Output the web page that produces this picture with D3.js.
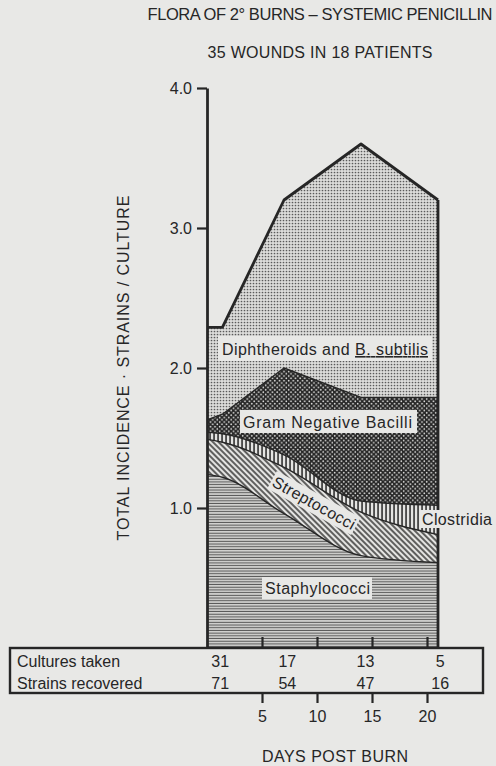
<!DOCTYPE html>
<html>
<head>
<meta charset="utf-8">
<script src="https://cdn.jsdelivr.net/npm/d3@7"></script>
<style>
  body { margin: 0; background: #e8e8e6; }
  svg { display: block; font-family: "Liberation Sans", Arial, sans-serif; }
</style>
</head>
<body>
<div id="chart"></div>
<script>
// days post burn where the curves were read, and what each group adds on top of the one below
const days = [0, 1.4, 7, 14, 21];
const staphylococci = [1.24, 1.22, 0.96, 0.66, 0.61];
const streptococci = [0.25, 0.25, 0.33, 0.31, 0.2];
const clostridia = [0.05, 0.06, 0.09, 0.08, 0.21];
const gramNegative = [0.09, 0.14, 0.62, 0.74, 0.77];
const diphtheroids = [0.66, 0.62, 1.2, 1.81, 1.41];

// table under the chart
const tableDays = [1.2, 7.3, 14.4, 21.2];
const culturesTaken = [31, 17, 13, 5];
const strainsRecovered = [71, 54, 47, 16];

const dayTicks = [5, 10, 15, 20];
const yTicks = [1, 2, 3, 4];

const ink = "#262626";
const paper = "#e8e8e6";

const width = 496,
  height = 766;

const svg = d3
  .select("#chart")
  .append("svg")
  .attr("width", width)
  .attr("height", height);

// scales
const x = d3.scaleLinear().domain([0, 21]).range([207, 438]);
const y = d3.scaleLinear().domain([0, 4]).range([648, 88]);

// patterns ////////////////
const defs = svg.append("defs");

// fine dots - diphtheroids
let p = defs
  .append("pattern")
  .attr("id", "dots")
  .attr("patternUnits", "userSpaceOnUse")
  .attr("width", 3)
  .attr("height", 3);
p.append("rect").attr("width", 3).attr("height", 3).attr("fill", "#dcdcda");
p.append("circle").attr("cx", 1.5).attr("cy", 1.5).attr("r", 0.85).attr("fill", "#5a5a5a");

// dark with light holes - gram negative
p = defs
  .append("pattern")
  .attr("id", "cross")
  .attr("patternUnits", "userSpaceOnUse")
  .attr("width", 4.6)
  .attr("height", 4.6);
p.append("rect").attr("width", 4.6).attr("height", 4.6).attr("fill", "#262626");
p.append("circle").attr("cx", 1.15).attr("cy", 1.15).attr("r", 0.85).attr("fill", "#e4e4e2");
p.append("circle").attr("cx", 3.45).attr("cy", 3.45).attr("r", 0.85).attr("fill", "#e4e4e2");

// vertical stripes - clostridia
p = defs
  .append("pattern")
  .attr("id", "vert")
  .attr("patternUnits", "userSpaceOnUse")
  .attr("width", 4)
  .attr("height", 4);
p.append("rect").attr("width", 4).attr("height", 4).attr("fill", "#e4e4e2");
p.append("rect").attr("x", 1.3).attr("width", 1.5).attr("height", 4).attr("fill", ink);

// diagonal stripes - streptococci
p = defs
  .append("pattern")
  .attr("id", "diag")
  .attr("patternUnits", "userSpaceOnUse")
  .attr("width", 4)
  .attr("height", 4)
  .attr("patternTransform", "rotate(45)");
p.append("rect").attr("width", 4).attr("height", 4).attr("fill", "#e4e4e2");
p.append("rect").attr("y", 1.3).attr("width", 4).attr("height", 1.4).attr("fill", ink);

// horizontal lines - staphylococci
p = defs
  .append("pattern")
  .attr("id", "horiz")
  .attr("patternUnits", "userSpaceOnUse")
  .attr("width", 4)
  .attr("height", 2.7);
p.append("rect").attr("width", 4).attr("height", 2.7).attr("fill", "#d2d2d0");
p.append("rect").attr("y", 0.8).attr("width", 4).attr("height", 1).attr("fill", "#555");

// stack the groups
const keys = ["staph", "strep", "clost", "gram", "diph"];
const rows = days.map((d, i) => ({
  day: d,
  staph: staphylococci[i],
  strep: streptococci[i],
  clost: clostridia[i],
  gram: gramNegative[i],
  diph: diphtheroids[i],
}));
const series = d3.stack().keys(keys)(rows);

const look = {
  staph: { fill: "url(#horiz)", curve: d3.curveMonotoneX },
  strep: { fill: "url(#diag)", curve: d3.curveMonotoneX },
  clost: { fill: "url(#vert)", curve: d3.curveMonotoneX },
  gram: { fill: "url(#cross)", curve: d3.curveLinear },
  diph: { fill: "url(#dots)", curve: d3.curveLinear },
};

// paint top layer first, each one from zero up to its cumulative top
series
  .slice()
  .reverse()
  .forEach((s) => {
    const area = d3
      .area()
      .x((d) => x(d.data.day))
      .y0(y(0))
      .y1((d) => y(d[1]))
      .curve(look[s.key].curve);
    svg.append("path").datum(s).attr("d", area).attr("fill", look[s.key].fill);
  });

// boundary lines
series.forEach((s) => {
  const line = d3
    .line()
    .x((d) => x(d.data.day))
    .y((d) => y(d[1]))
    .curve(look[s.key].curve);
  svg
    .append("path")
    .datum(s)
    .attr("d", line)
    .attr("fill", "none")
    .attr("stroke", ink)
    .attr("stroke-width", s.key === "diph" ? 2.8 : 1.4)
    .attr("stroke-linejoin", "round");
});

// right edge of the area
const last = series[series.length - 1];
svg
  .append("line")
  .attr("x1", x(21))
  .attr("x2", x(21))
  .attr("y1", y(0))
  .attr("y2", y(last[last.length - 1][1]))
  .attr("stroke", ink)
  .attr("stroke-width", 2.8);

// labels inside the areas ////////////////
const boxLabel = (bx, by, bw, bh) => {
  svg
    .append("rect")
    .attr("x", bx)
    .attr("y", by)
    .attr("width", bw)
    .attr("height", bh)
    .attr("fill", paper);
};

boxLabel(218, 336, 214, 25);
const diphText = svg
  .append("text")
  .attr("x", 222)
  .attr("y", 355)
  .attr("font-size", 16)
  .attr("fill", ink)
  .attr("textLength", 206);
diphText.append("tspan").text("Diphtheroids and ");
diphText.append("tspan").style("text-decoration", "underline").text("B. subtilis");

boxLabel(240, 410, 177, 23);
svg
  .append("text")
  .attr("x", 243)
  .attr("y", 428)
  .attr("font-size", 16)
  .attr("fill", ink)
  .attr("textLength", 169)
  .text("Gram Negative Bacilli");

const strepG = svg.append("g").attr("transform", "translate(314,503) rotate(29)");
strepG
  .append("rect")
  .attr("x", -48)
  .attr("y", -10)
  .attr("width", 96)
  .attr("height", 20)
  .attr("fill", paper);
strepG
  .append("text")
  .attr("text-anchor", "middle")
  .attr("dy", "0.35em")
  .attr("font-size", 16)
  .attr("fill", ink)
  .attr("textLength", 92)
  .text("Streptococci");

boxLabel(420, 510, 20, 18);
svg
  .append("text")
  .attr("x", 422)
  .attr("y", 525)
  .attr("font-size", 16)
  .attr("fill", ink)
  .attr("textLength", 70)
  .text("Clostridia");

boxLabel(262, 577, 110, 22);
svg
  .append("text")
  .attr("x", 265)
  .attr("y", 594)
  .attr("font-size", 16)
  .attr("fill", ink)
  .attr("textLength", 105)
  .text("Staphylococci");

// Y axis ////////////////
const yAxis = svg
  .append("g")
  .attr("transform", `translate(${x(0)},0)`)
  .call(
    d3
      .axisLeft(y)
      .tickValues(yTicks)
      .tickFormat(d3.format(".1f"))
      .tickSize(10)
      .tickPadding(5)
      .tickSizeOuter(0)
  );
yAxis.select(".domain").attr("stroke", ink).attr("stroke-width", 2.8);
yAxis.selectAll(".tick line").attr("stroke", ink).attr("stroke-width", 2.2);
yAxis
  .selectAll(".tick text")
  .attr("font-size", 16)
  .attr("font-family", "Liberation Sans, Arial, sans-serif")
  .attr("fill", ink);

svg
  .append("text")
  .attr("transform", "translate(129,368) rotate(-90)")
  .attr("text-anchor", "middle")
  .attr("font-size", 16)
  .attr("fill", ink)
  .attr("textLength", 345)
  .text("TOTAL INCIDENCE · STRAINS / CULTURE");

// small ticks at the chart bottom, pointing up
const innerTicks = svg
  .append("g")
  .attr("transform", `translate(0,${y(0)})`)
  .call(d3.axisBottom(x).tickValues(dayTicks).tickSize(-11).tickFormat(""));
innerTicks.select(".domain").remove();
innerTicks.selectAll(".tick line").attr("stroke", ink).attr("stroke-width", 2.2);

// table ////////////////
svg
  .append("rect")
  .attr("x", 10)
  .attr("y", 648)
  .attr("width", 473)
  .attr("height", 45)
  .attr("fill", "none")
  .attr("stroke", ink)
  .attr("stroke-width", 2.4);

const rowText = (label, values, baseline) => {
  svg
    .append("text")
    .attr("x", 17)
    .attr("y", baseline)
    .attr("font-size", 16)
    .attr("fill", ink)
    .text(label);
  svg
    .selectAll(null)
    .data(values)
    .enter()
    .append("text")
    .attr("x", (d, i) => x(tableDays[i]))
    .attr("y", baseline)
    .attr("text-anchor", "middle")
    .attr("font-size", 16)
    .attr("fill", ink)
    .text((d) => d);
};
rowText("Cultures taken", culturesTaken, 667);
rowText("Strains recovered", strainsRecovered, 689);

// X axis under the table ////////////////
const xAxis = svg
  .append("g")
  .attr("transform", "translate(0,693)")
  .call(d3.axisBottom(x).tickValues(dayTicks).tickSize(10).tickPadding(8));
xAxis.select(".domain").remove();
xAxis.selectAll(".tick line").attr("stroke", ink).attr("stroke-width", 2.2);
xAxis
  .selectAll(".tick text")
  .attr("font-size", 16)
  .attr("font-family", "Liberation Sans, Arial, sans-serif")
  .attr("fill", ink);

svg
  .append("text")
  .attr("x", 335)
  .attr("y", 762)
  .attr("text-anchor", "middle")
  .attr("font-size", 16)
  .attr("fill", ink)
  .attr("textLength", 146)
  .text("DAYS POST BURN");

// titles
svg
  .append("text")
  .attr("x", 320)
  .attr("y", 20)
  .attr("text-anchor", "middle")
  .attr("font-size", 16.5)
  .attr("fill", ink)
  .attr("textLength", 345)
  .text("FLORA OF 2° BURNS – SYSTEMIC PENICILLIN");

svg
  .append("text")
  .attr("x", 320)
  .attr("y", 58)
  .attr("text-anchor", "middle")
  .attr("font-size", 16)
  .attr("fill", ink)
  .attr("textLength", 225)
  .text("35 WOUNDS IN 18 PATIENTS");
</script>
</body>
</html>
